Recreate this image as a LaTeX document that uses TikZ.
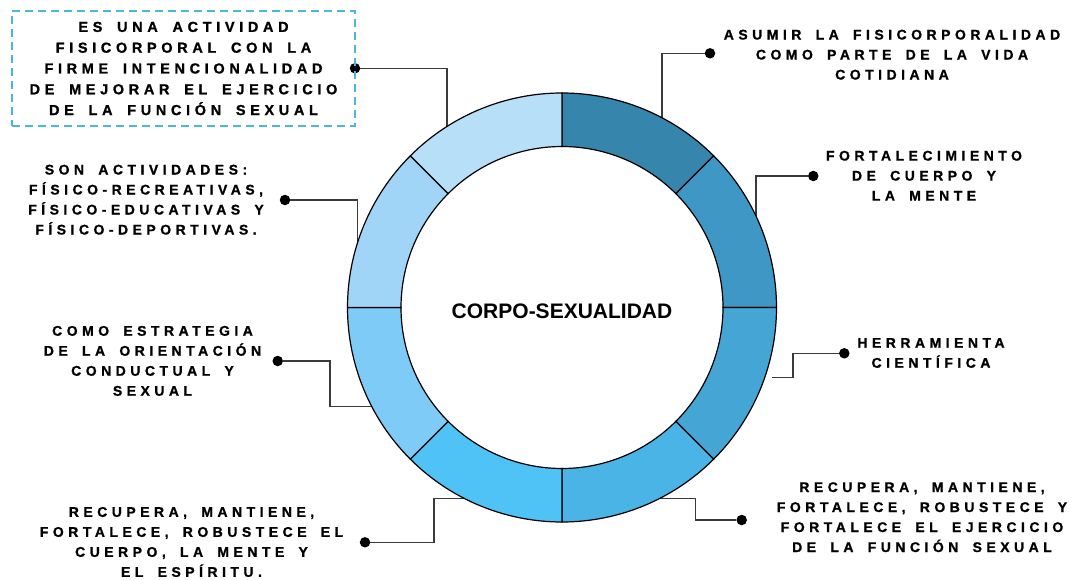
\documentclass[tikz,border=0pt]{standalone}
\usepackage{fontspec}
\setmainfont{Liberation Sans}
\newfontfamily\spacedfont{Liberation Sans Bold}[LetterSpace=32, WordSpace=1.7, FakeBold=1]

\definecolor{segA}{HTML}{3585AD}
\definecolor{segB}{HTML}{3E97C4}
\definecolor{segC}{HTML}{45A6D6}
\definecolor{segD}{HTML}{4AB4E6}
\definecolor{segE}{HTML}{50C3F6}
\definecolor{segF}{HTML}{7FCBF8}
\definecolor{segG}{HTML}{A0D5F8}
\definecolor{segH}{HTML}{B8DFF8}
\definecolor{boxblue}{HTML}{4BB8D8}
\definecolor{linkgray}{HTML}{3A3A3A}

\tikzset{
  lbl/.style={align=center, inner sep=0pt,
    font=\spacedfont\fontsize{14bp}{20bp}\selectfont},
  link/.style={draw=linkgray, line width=1.5bp},
  pin/.style={circle, fill=black, inner sep=0pt, minimum size=10.5bp},
}

\begin{document}
\begin{tikzpicture}[x=1bp,y=-1bp]
        \useasboundingbox (0,0) rectangle (1079,580);
        \coordinate (c) at (562,307.5);
        % dots
        \node[pin] (p1) at (355,68.3) {};
        \node[pin] (p2) at (710,53.3) {};
        \node[pin] (p3) at (813.3,176) {};
        \node[pin] (p4) at (844.3,353.3) {};
        \node[pin] (p5) at (741.7,520) {};
        \node[pin] (p6) at (365,542.3) {};
        \node[pin] (p7) at (277.7,361) {};
        \node[pin] (p8) at (285,200) {};
        % ends on the ring
        \coordinate (r1) at (447,135);
        \coordinate (r2) at (662,125);
        \coordinate (r3) at (756,225);
        \coordinate (k4) at (793,377.3);
        \coordinate (r4) at (772,377.3);
        \coordinate (k5) at (695.7,498.5);
        \coordinate (r5) at (655,498.5);
        \coordinate (k6) at (434,498.5);
        \coordinate (r6) at (470,498.5);
        \coordinate (k7) at (330,406.3);
        \coordinate (r7) at (378,406.3);
        \coordinate (r8) at (357.7,250);
        % connectors
        \draw[link] (p1) -| (r1);
        \draw[link] (p2) -| (r2);
        \draw[link] (p3) -| (r3);
        \draw[link] (p4) -| (k4) -- (r4);
        \draw[link] (p5) -| (k5) -- (r5);
        \draw[link] (p6) -| (k6) -- (r6);
        \draw[link] (p7) -| (k7) -- (r7);
        \draw[link] (p8) -| (r8);
        % ring
        \begin{scope}[shift={(562,307.5)}]
        \foreach \a/\col in {-90/segA,-45/segB,0/segC,45/segD,90/segE,135/segF,180/segG,225/segH}
          \filldraw[fill=\col, draw=black, line width=1.2bp] (\a:214.5)
            arc[start angle=\a, end angle=\a+45, radius=214.5] -- ({\a+45}:161)
            arc[start angle=\a+45, end angle=\a, radius=161] -- cycle;
        \end{scope}
        \node[font=\bfseries\fontsize{21bp}{25bp}\selectfont] (core) at (562,311) {CORPO-SEXUALIDAD};
        % labels
        \node[lbl, draw=boxblue, line width=2bp, dash pattern=on 8bp off 5bp,
          minimum width=343bp, minimum height=115bp,
          font=\spacedfont\fontsize{14.5bp}{20.8bp}\selectfont] (fin) at (183.5,68.5)
          {ES UNA ACTIVIDAD\\FISICORPORAL CON LA\\FIRME INTENCIONALIDAD\\DE MEJORAR EL EJERCICIO\\DE LA FUNCIÓN SEXUAL};
        \node[lbl] (vida) at (892,54.7) {ASUMIR LA FISICORPORALIDAD\\COMO PARTE DE LA VIDA\\COTIDIANA};
        \node[lbl] (mente) at (924,175.7) {FORTALECIMIENTO\\DE CUERPO Y\\LA MENTE};
        \node[lbl] (herr) at (931,353) {HERRAMIENTA\\CIENTÍFICA};
        \node[lbl] (sexual) at (922,517.2) {RECUPERA, MANTIENE,\\FORTALECE, ROBUSTECE Y\\FORTALECE EL EJERCICIO\\DE LA FUNCIÓN SEXUAL};
        \node[lbl] (espiritu) at (191.5,542) {RECUPERA, MANTIENE,\\FORTALECE, ROBUSTECE EL\\CUERPO, LA MENTE Y\\EL ESPÍRITU.};
        \node[lbl] (estrat) at (152.5,360.9) {COMO ESTRATEGIA\\DE LA ORIENTACIÓN\\CONDUCTUAL Y\\SEXUAL};
        \node[lbl] (activ) at (146,199.7) {SON ACTIVIDADES:\\FÍSICO-RECREATIVAS,\\FÍSICO-EDUCATIVAS Y\\FÍSICO-DEPORTIVAS.};
        \end{tikzpicture}
\end{document}
